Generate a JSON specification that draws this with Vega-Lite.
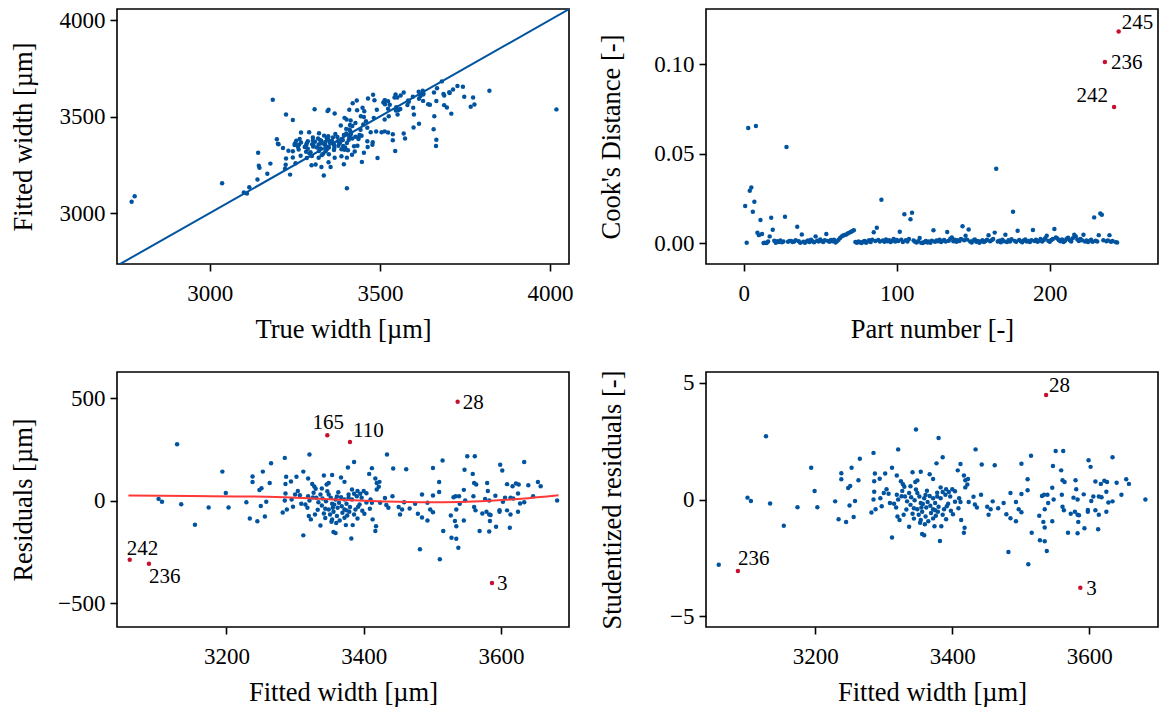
{
"$schema":"https://vega.github.io/schema/vega-lite/v6.json",
"background":"white",
"padding":{"left":9,"top":8,"right":5,"bottom":0},
"bounds":"flush",
"columns":2,
"spacing":{"row":108,"column":137},
"config":{
 "font":"Liberation Serif",
 "view":{"stroke":"black","strokeWidth":1.6},
 "axis":{"labelFont":"Liberation Serif","titleFont":"Liberation Serif","labelFontSize":23,"titleFontSize":26.5,"titleFontWeight":"normal","labelColor":"black","titleColor":"black","tickColor":"black","tickSize":7,"tickWidth":1.6,"domain":false,"grid":false,"labelFlush":false,"labelOverlap":false},
 "axisX":{"labelPadding":11,"titlePadding":11},
 "axisY":{"labelPadding":5,"titlePadding":22}
},
"datasets":{
"pts":[
{"f":3059,"r":-289,"s":-2.80,"t":2770,"id":"242"},
{"f":3087,"r":-308,"s":-3.07,"t":2779,"id":"236"},
{"f":3128,"r":275,"s":2.71,"t":3403},
{"f":3101,"r":8,"s":0.08,"t":3109},
{"f":3106,"r":-6,"s":-0.06,"t":3100},
{"f":3134,"r":-18,"s":-0.17,"t":3116},
{"f":3154,"r":-118,"s":-1.13,"t":3036},
{"f":3174,"r":-34,"s":-0.33,"t":3140},
{"f":3194,"r":141,"s":1.36,"t":3335},
{"f":3199,"r":37,"s":0.36,"t":3236},
{"f":3203,"r":-34,"s":-0.33,"t":3169},
{"f":3229,"r":-8,"s":-0.08,"t":3221},
{"f":3234,"r":-88,"s":-0.85,"t":3146},
{"f":3238,"r":117,"s":1.13,"t":3355},
{"f":3238,"r":90,"s":0.87,"t":3328},
{"f":3245,"r":-101,"s":-0.97,"t":3144},
{"f":3248,"r":51,"s":0.49,"t":3299},
{"f":3251,"r":60,"s":0.58,"t":3311},
{"f":3250,"r":-27,"s":-0.26,"t":3223},
{"f":3253,"r":141,"s":1.36,"t":3394},
{"f":3256,"r":-78,"s":-0.75,"t":3178},
{"f":3258,"r":-6,"s":-0.06,"t":3252},
{"f":3263,"r":86,"s":0.83,"t":3349},
{"f":3265,"r":182,"s":1.75,"t":3447},
{"f":3347,"r":318,"s":3.00,"t":3665,"id":"165"},
{"f":3380,"r":286,"s":2.64,"t":3666,"id":"110"},
{"f":3285,"r":208,"s":2.00,"t":3493},
{"f":3321,"r":224,"s":2.15,"t":3545},
{"f":3287,"r":116,"s":1.12,"t":3403},
{"f":3286,"r":81,"s":0.78,"t":3367},
{"f":3294,"r":93,"s":0.89,"t":3387},
{"f":3302,"r":116,"s":1.12,"t":3418},
{"f":3312,"r":141,"s":1.36,"t":3453},
{"f":3319,"r":107,"s":1.03,"t":3426},
{"f":3325,"r":81,"s":0.78,"t":3406},
{"f":3328,"r":68,"s":0.65,"t":3396},
{"f":3330,"r":57,"s":0.55,"t":3387},
{"f":3327,"r":38,"s":0.37,"t":3365},
{"f":3342,"r":122,"s":1.17,"t":3464},
{"f":3354,"r":124,"s":1.19,"t":3478},
{"f":3367,"r":112,"s":1.08,"t":3479},
{"f":3372,"r":91,"s":0.88,"t":3463},
{"f":3377,"r":161,"s":1.55,"t":3538},
{"f":3386,"r":188,"s":1.81,"t":3574},
{"f":3346,"r":78,"s":0.75,"t":3424},
{"f":3349,"r":85,"s":0.82,"t":3434},
{"f":3339,"r":59,"s":0.57,"t":3398},
{"f":3304,"r":46,"s":0.44,"t":3350},
{"f":3300,"r":29,"s":0.28,"t":3329},
{"f":3286,"r":34,"s":0.33,"t":3320},
{"f":3285,"r":0,"s":0.00,"t":3285},
{"f":3295,"r":5,"s":0.05,"t":3300},
{"f":3307,"r":26,"s":0.25,"t":3333},
{"f":3309,"r":-16,"s":-0.15,"t":3293},
{"f":3315,"r":-19,"s":-0.18,"t":3296},
{"f":3319,"r":21,"s":0.20,"t":3340},
{"f":3321,"r":0,"s":0.00,"t":3321},
{"f":3331,"r":13,"s":0.13,"t":3344},
{"f":3334,"r":-8,"s":-0.08,"t":3326},
{"f":3337,"r":29,"s":0.28,"t":3366},
{"f":3339,"r":-24,"s":-0.23,"t":3315},
{"f":3345,"r":-3,"s":-0.03,"t":3342},
{"f":3349,"r":29,"s":0.28,"t":3378},
{"f":3352,"r":13,"s":0.13,"t":3365},
{"f":3354,"r":-16,"s":-0.15,"t":3338},
{"f":3359,"r":5,"s":0.05,"t":3364},
{"f":3361,"r":20,"s":0.19,"t":3381},
{"f":3367,"r":16,"s":0.15,"t":3383},
{"f":3372,"r":5,"s":0.05,"t":3377},
{"f":3364,"r":-11,"s":-0.11,"t":3353},
{"f":3355,"r":-35,"s":-0.34,"t":3320},
{"f":3349,"r":-44,"s":-0.42,"t":3305},
{"f":3342,"r":-63,"s":-0.61,"t":3279},
{"f":3351,"r":-68,"s":-0.65,"t":3283},
{"f":3356,"r":-55,"s":-0.53,"t":3301},
{"f":3361,"r":-76,"s":-0.73,"t":3285},
{"f":3354,"r":-92,"s":-0.88,"t":3262},
{"f":3353,"r":-104,"s":-1.00,"t":3249},
{"f":3365,"r":-97,"s":-0.93,"t":3268},
{"f":3372,"r":-84,"s":-0.81,"t":3288},
{"f":3376,"r":-73,"s":-0.70,"t":3303},
{"f":3375,"r":-48,"s":-0.46,"t":3327},
{"f":3379,"r":-55,"s":-0.53,"t":3324},
{"f":3380,"r":-32,"s":-0.31,"t":3348},
{"f":3372,"r":-44,"s":-0.42,"t":3328},
{"f":3388,"r":-44,"s":-0.42,"t":3344},
{"f":3386,"r":-68,"s":-0.65,"t":3318},
{"f":3391,"r":-88,"s":-0.85,"t":3303},
{"f":3384,"r":-120,"s":-1.15,"t":3264},
{"f":3374,"r":-120,"s":-1.15,"t":3254},
{"f":3382,"r":-185,"s":-1.78,"t":3197},
{"f":3356,"r":-154,"s":-1.48,"t":3202},
{"f":3359,"r":-159,"s":-1.53,"t":3200},
{"f":3337,"r":-122,"s":-1.17,"t":3215},
{"f":3312,"r":-170,"s":-1.63,"t":3142},
{"f":3323,"r":-92,"s":-0.88,"t":3231},
{"f":3320,"r":-76,"s":-0.73,"t":3244},
{"f":3329,"r":-68,"s":-0.65,"t":3261},
{"f":3318,"r":-35,"s":-0.34,"t":3283},
{"f":3282,"r":-58,"s":-0.56,"t":3224},
{"f":3288,"r":-44,"s":-0.42,"t":3244},
{"f":3383,"r":54,"s":0.52,"t":3437},
{"f":3386,"r":33,"s":0.32,"t":3419},
{"f":3391,"r":46,"s":0.44,"t":3437},
{"f":3395,"r":33,"s":0.32,"t":3428},
{"f":3400,"r":46,"s":0.44,"t":3446},
{"f":3404,"r":36,"s":0.35,"t":3440},
{"f":3397,"r":13,"s":0.13,"t":3410},
{"f":3390,"r":21,"s":0.20,"t":3411},
{"f":3383,"r":5,"s":0.05,"t":3388},
{"f":3401,"r":-65,"s":-0.63,"t":3336},
{"f":3394,"r":-19,"s":-0.18,"t":3375},
{"f":3413,"r":-92,"s":-0.88,"t":3321},
{"f":3418,"r":-126,"s":-1.21,"t":3292},
{"f":3417,"r":-149,"s":-1.43,"t":3268},
{"f":3408,"r":130,"s":1.25,"t":3538},
{"f":3412,"r":158,"s":1.52,"t":3570},
{"f":3417,"r":107,"s":1.03,"t":3524},
{"f":3419,"r":86,"s":0.83,"t":3505},
{"f":3423,"r":91,"s":0.88,"t":3514},
{"f":3422,"r":67,"s":0.64,"t":3489},
{"f":3419,"r":54,"s":0.52,"t":3473},
{"f":3431,"r":12,"s":0.12,"t":3443},
{"f":3434,"r":224,"s":2.15,"t":3658},
{"f":3443,"r":156,"s":1.50,"t":3599},
{"f":3462,"r":153,"s":1.47,"t":3615},
{"f":3442,"r":21,"s":0.20,"t":3463},
{"f":3433,"r":-22,"s":-0.21,"t":3411},
{"f":3436,"r":-35,"s":-0.34,"t":3401},
{"f":3451,"r":-32,"s":-0.31,"t":3419},
{"f":3456,"r":-44,"s":-0.42,"t":3412},
{"f":3453,"r":-68,"s":-0.65,"t":3385},
{"f":3467,"r":-39,"s":-0.38,"t":3428},
{"f":3459,"r":-8,"s":-0.08,"t":3451},
{"f":3475,"r":-16,"s":-0.15,"t":3459},
{"f":3479,"r":-65,"s":-0.63,"t":3414},
{"f":3485,"r":-83,"s":-0.80,"t":3402},
{"f":3485,"r":29,"s":0.28,"t":3514},
{"f":3482,"r":-238,"s":-2.25,"t":3244},
{"f":3412,"r":-11,"s":-0.11,"t":3401},
{"f":3424,"r":-11,"s":-0.11,"t":3413},
{"f":3404,"r":-10,"s":-0.10,"t":3394},
{"f":3410,"r":5,"s":0.05,"t":3415},
{"f":3375,"r":-16,"s":-0.15,"t":3359},
{"f":3378,"r":13,"s":0.13,"t":3391},
{"f":3368,"r":-28,"s":-0.27,"t":3340},
{"f":3362,"r":-35,"s":-0.34,"t":3327},
{"f":3537,"r":482,"s":4.48,"t":4019,"id":"28"},
{"f":3587,"r":-402,"s":-3.79,"t":3185,"id":"3"},
{"f":3501,"r":159,"s":1.53,"t":3660},
{"f":3515,"r":195,"s":1.88,"t":3710},
{"f":3510,"r":90,"s":0.87,"t":3600},
{"f":3510,"r":42,"s":0.40,"t":3552},
{"f":3501,"r":25,"s":0.24,"t":3526},
{"f":3493,"r":-11,"s":-0.11,"t":3482},
{"f":3497,"r":-44,"s":-0.42,"t":3453},
{"f":3501,"r":-57,"s":-0.55,"t":3444},
{"f":3493,"r":-97,"s":-0.93,"t":3396},
{"f":3516,"r":-149,"s":-1.43,"t":3367},
{"f":3511,"r":-287,"s":-2.78,"t":3224},
{"f":3528,"r":-182,"s":-1.75,"t":3346},
{"f":3535,"r":-186,"s":-1.79,"t":3349},
{"f":3538,"r":-230,"s":-2.21,"t":3308},
{"f":3527,"r":-73,"s":-0.70,"t":3454},
{"f":3533,"r":-100,"s":-0.96,"t":3433},
{"f":3535,"r":-125,"s":-1.20,"t":3410},
{"f":3546,"r":-97,"s":-0.93,"t":3449},
{"f":3531,"r":16,"s":0.15,"t":3547},
{"f":3534,"r":21,"s":0.20,"t":3555},
{"f":3539,"r":21,"s":0.20,"t":3560},
{"f":3540,"r":-16,"s":-0.15,"t":3524},
{"f":3535,"r":-44,"s":-0.42,"t":3491},
{"f":3546,"r":52,"s":0.50,"t":3598},
{"f":3547,"r":150,"s":1.44,"t":3697},
{"f":3551,"r":216,"s":2.08,"t":3767},
{"f":3562,"r":216,"s":2.08,"t":3778},
{"f":3559,"r":130,"s":1.25,"t":3689},
{"f":3561,"r":86,"s":0.83,"t":3647},
{"f":3564,"r":78,"s":0.75,"t":3642},
{"f":3560,"r":21,"s":0.20,"t":3581},
{"f":3548,"r":0,"s":0.00,"t":3548},
{"f":3561,"r":-32,"s":-0.31,"t":3529},
{"f":3563,"r":-48,"s":-0.46,"t":3515},
{"f":3569,"r":-149,"s":-1.43,"t":3420},
{"f":3573,"r":-63,"s":-0.61,"t":3510},
{"f":3579,"r":-55,"s":-0.53,"t":3524},
{"f":3580,"r":86,"s":0.83,"t":3666},
{"f":3581,"r":46,"s":0.44,"t":3627},
{"f":3577,"r":8,"s":0.08,"t":3585},
{"f":3583,"r":0,"s":0.00,"t":3583},
{"f":3583,"r":-68,"s":-0.65,"t":3515},
{"f":3585,"r":-71,"s":-0.68,"t":3514},
{"f":3584,"r":-100,"s":-0.96,"t":3484},
{"f":3583,"r":-151,"s":-1.45,"t":3432},
{"f":3593,"r":-128,"s":-1.23,"t":3465},
{"f":3592,"r":23,"s":0.22,"t":3615},
{"f":3598,"r":-47,"s":-0.45,"t":3551},
{"f":3599,"r":175,"s":1.68,"t":3774},
{"f":3602,"r":146,"s":1.40,"t":3748},
{"f":3598,"r":-55,"s":-0.53,"t":3543},
{"f":3603,"r":-6,"s":-0.06,"t":3597},
{"f":3609,"r":80,"s":0.77,"t":3689},
{"f":3617,"r":70,"s":0.67,"t":3687},
{"f":3622,"r":83,"s":0.80,"t":3705},
{"f":3626,"r":78,"s":0.75,"t":3704},
{"f":3625,"r":34,"s":0.33,"t":3659},
{"f":3614,"r":13,"s":0.13,"t":3627},
{"f":3609,"r":-48,"s":-0.46,"t":3561},
{"f":3614,"r":-68,"s":-0.65,"t":3546},
{"f":3613,"r":-133,"s":-1.28,"t":3480},
{"f":3625,"r":-55,"s":-0.53,"t":3570},
{"f":3628,"r":-14,"s":-0.13,"t":3614},
{"f":3634,"r":-8,"s":-0.08,"t":3626},
{"f":3634,"r":188,"s":1.81,"t":3822},
{"f":3640,"r":75,"s":0.72,"t":3715},
{"f":3647,"r":21,"s":0.20,"t":3668},
{"f":3654,"r":90,"s":0.87,"t":3744},
{"f":3658,"r":70,"s":0.67,"t":3728},
{"f":3682,"r":0,"s":0.00,"t":3682},
{"f":3606,"r":13,"s":0.13,"t":3619},
{"f":3618,"r":10,"s":0.10,"t":3628},
{"f":3340,"r":10,"s":0.10,"t":3350},
{"f":3344,"r":-40,"s":-0.38,"t":3304},
{"f":3357,"r":-20,"s":-0.19,"t":3337},
{"f":3363,"r":40,"s":0.38,"t":3403},
{"f":3369,"r":-60,"s":-0.58,"t":3309},
{"f":3347,"r":45,"s":0.43,"t":3392},
{"f":3333,"r":-45,"s":-0.43,"t":3288},
{"f":3326,"r":15,"s":0.14,"t":3341},
{"f":3378,"r":30,"s":0.29,"t":3408},
{"f":3392,"r":-30,"s":-0.29,"t":3362},
{"f":3398,"r":-50,"s":-0.48,"t":3348},
{"f":3409,"r":-40,"s":-0.38,"t":3369},
{"f":3360,"r":-110,"s":-1.06,"t":3250},
{"f":3344,"r":-85,"s":-0.82,"t":3259},
{"f":3297,"r":-30,"s":-0.29,"t":3267}
],
"low":[
{"f":3057,"r":24},{"f":3150,"r":22},{"f":3260,"r":18},{"f":3320,"r":11},{"f":3375,"r":2},{"f":3430,"r":-5},{"f":3490,"r":-9},{"f":3540,"r":-7},{"f":3580,"r":-2},{"f":3630,"r":9},{"f":3684,"r":26}
],
"cook":[
{"p":1,"c":0.0208},{"p":2,"c":0.0003},{"p":3,"c":0.0643},{"p":4,"c":0.0293},{"p":5,"c":0.0312},{"p":6,"c":0.0176},{"p":7,"c":0.0232},{"p":8,"c":0.0654},{"p":9,"c":0.0059},{"p":10,"c":0.0046},
{"p":11,"c":0.0130},{"p":12,"c":0.0052},{"p":13,"c":0.0002},{"p":14,"c":0.0003},{"p":15,"c":0.0002},{"p":16,"c":0.0010},{"p":17,"c":0.0039},{"p":18,"c":0.0143},{"p":19,"c":0.0076},{"p":20,"c":0.0015},
{"p":21,"c":0.0004},{"p":22,"c":0.0012},{"p":23,"c":0.0008},{"p":24,"c":0.0016},{"p":25,"c":0.0006},{"p":26,"c":0.0011},{"p":27,"c":0.0148},{"p":28,"c":0.0537},{"p":29,"c":0.0009},{"p":30,"c":0.0014},
{"p":31,"c":0.0013},{"p":32,"c":0.0007},{"p":33,"c":0.0010},{"p":34,"c":0.0018},{"p":35,"c":0.0093},{"p":36,"c":0.0012},{"p":37,"c":0.0004},{"p":38,"c":0.0050},{"p":39,"c":0.0009},{"p":40,"c":0.0003},
{"p":41,"c":0.0011},{"p":42,"c":0.0016},{"p":43,"c":0.0008},{"p":44,"c":0.0020},{"p":45,"c":0.0012},{"p":46,"c":0.0006},{"p":47,"c":0.0039},{"p":48,"c":0.0015},{"p":49,"c":0.0010},{"p":50,"c":0.0022},
{"p":51,"c":0.0013},{"p":52,"c":0.0007},{"p":53,"c":0.0017},{"p":54,"c":0.0052},{"p":55,"c":0.0014},{"p":56,"c":0.0009},{"p":57,"c":0.0019},{"p":58,"c":0.0012},{"p":59,"c":0.0021},{"p":60,"c":0.0005},
{"p":61,"c":0.0012},{"p":62,"c":0.0020},{"p":63,"c":0.0030},{"p":64,"c":0.0039},{"p":65,"c":0.0044},{"p":66,"c":0.0047},{"p":67,"c":0.0050},{"p":68,"c":0.0055},{"p":69,"c":0.0060},{"p":70,"c":0.0064},
{"p":71,"c":0.0069},{"p":72,"c":0.0073},{"p":73,"c":0.0008},{"p":74,"c":0.0003},{"p":75,"c":0.0011},{"p":76,"c":0.0006},{"p":77,"c":0.0002},{"p":78,"c":0.0009},{"p":79,"c":0.0014},{"p":80,"c":0.0004},
{"p":81,"c":0.0010},{"p":82,"c":0.0017},{"p":83,"c":0.0008},{"p":84,"c":0.0021},{"p":85,"c":0.0062},{"p":86,"c":0.0013},{"p":87,"c":0.0087},{"p":88,"c":0.0019},{"p":89,"c":0.0011},{"p":90,"c":0.0243},
{"p":91,"c":0.0016},{"p":92,"c":0.0009},{"p":93,"c":0.0022},{"p":94,"c":0.0012},{"p":95,"c":0.0018},{"p":96,"c":0.0007},{"p":97,"c":0.0015},{"p":98,"c":0.0024},{"p":99,"c":0.0010},{"p":100,"c":0.0019},
{"p":101,"c":0.0013},{"p":102,"c":0.0065},{"p":103,"c":0.0021},{"p":104,"c":0.0008},{"p":105,"c":0.0163},{"p":106,"c":0.0017},{"p":107,"c":0.0011},{"p":108,"c":0.0024},{"p":109,"c":0.0135},{"p":110,"c":0.0171},
{"p":111,"c":0.0016},{"p":112,"c":0.0009},{"p":113,"c":0.0005},{"p":114,"c":0.0012},{"p":115,"c":0.0030},{"p":116,"c":0.0004},{"p":117,"c":0.0002},{"p":118,"c":0.0008},{"p":119,"c":0.0013},{"p":120,"c":0.0005},
{"p":121,"c":0.0010},{"p":122,"c":0.0003},{"p":123,"c":0.0015},{"p":124,"c":0.0073},{"p":125,"c":0.0009},{"p":126,"c":0.0016},{"p":127,"c":0.0012},{"p":128,"c":0.0021},{"p":129,"c":0.0007},{"p":130,"c":0.0014},
{"p":131,"c":0.0019},{"p":132,"c":0.0011},{"p":133,"c":0.0063},{"p":134,"c":0.0015},{"p":135,"c":0.0026},{"p":136,"c":0.0033},{"p":137,"c":0.0012},{"p":138,"c":0.0020},{"p":139,"c":0.0009},{"p":140,"c":0.0017},
{"p":141,"c":0.0013},{"p":142,"c":0.0024},{"p":143,"c":0.0096},{"p":144,"c":0.0018},{"p":145,"c":0.0043},{"p":146,"c":0.0021},{"p":147,"c":0.0078},{"p":148,"c":0.0010},{"p":149,"c":0.0005},{"p":150,"c":0.0016},
{"p":151,"c":0.0022},{"p":152,"c":0.0009},{"p":153,"c":0.0014},{"p":154,"c":0.0003},{"p":155,"c":0.0011},{"p":156,"c":0.0018},{"p":157,"c":0.0007},{"p":158,"c":0.0013},{"p":159,"c":0.0020},{"p":160,"c":0.0045},
{"p":161,"c":0.0012},{"p":162,"c":0.0017},{"p":163,"c":0.0025},{"p":164,"c":0.0060},{"p":165,"c":0.0416},{"p":166,"c":0.0010},{"p":167,"c":0.0015},{"p":168,"c":0.0006},{"p":169,"c":0.0021},{"p":170,"c":0.0012},
{"p":171,"c":0.0048},{"p":172,"c":0.0008},{"p":173,"c":0.0017},{"p":174,"c":0.0011},{"p":175,"c":0.0023},{"p":176,"c":0.0176},{"p":177,"c":0.0014},{"p":178,"c":0.0009},{"p":179,"c":0.0071},{"p":180,"c":0.0019},
{"p":181,"c":0.0012},{"p":182,"c":0.0006},{"p":183,"c":0.0016},{"p":184,"c":0.0022},{"p":185,"c":0.0010},{"p":186,"c":0.0014},{"p":187,"c":0.0008},{"p":188,"c":0.0018},{"p":189,"c":0.0074},{"p":190,"c":0.0013},
{"p":191,"c":0.0020},{"p":192,"c":0.0009},{"p":193,"c":0.0015},{"p":194,"c":0.0024},{"p":195,"c":0.0011},{"p":196,"c":0.0017},{"p":197,"c":0.0028},{"p":198,"c":0.0043},{"p":199,"c":0.0014},{"p":200,"c":0.0009},
{"p":201,"c":0.0019},{"p":202,"c":0.0025},{"p":203,"c":0.0080},{"p":204,"c":0.0033},{"p":205,"c":0.0027},{"p":206,"c":0.0018},{"p":207,"c":0.0012},{"p":208,"c":0.0022},{"p":209,"c":0.0008},{"p":210,"c":0.0015},
{"p":211,"c":0.0026},{"p":212,"c":0.0031},{"p":213,"c":0.0017},{"p":214,"c":0.0011},{"p":215,"c":0.0029},{"p":216,"c":0.0048},{"p":217,"c":0.0039},{"p":218,"c":0.0021},{"p":219,"c":0.0013},{"p":220,"c":0.0024},
{"p":221,"c":0.0018},{"p":222,"c":0.0048},{"p":223,"c":0.0010},{"p":224,"c":0.0016},{"p":225,"c":0.0007},{"p":226,"c":0.0014},{"p":227,"c":0.0020},{"p":228,"c":0.0009},{"p":229,"c":0.0145},{"p":230,"c":0.0015},
{"p":231,"c":0.0011},{"p":232,"c":0.0046},{"p":233,"c":0.0167},{"p":234,"c":0.0160},{"p":235,"c":0.0018},{"p":236,"c":0.1012},{"p":237,"c":0.0012},{"p":238,"c":0.0016},{"p":239,"c":0.0046},{"p":240,"c":0.0009},
{"p":241,"c":0.0013},{"p":242,"c":0.0760},{"p":243,"c":0.0007},{"p":244,"c":0.0005},{"p":245,"c":0.1182}
]
},
"concat":[
{
 "width":452,"height":255,
 "encoding":{
  "x":{"field":"t","type":"quantitative","title":"True width [µm]","scale":{"domain":[2727,4056],"nice":false,"zero":false},"axis":{"values":[3000,3500,4000],"format":"d"}},
  "y":{"field":"f","type":"quantitative","title":"Fitted width [µm]","scale":{"domain":[2736,4057],"nice":false,"zero":false},"axis":{"values":[3000,3500,4000],"format":"d"}}
 },
 "layer":[
  {"data":{"name":"pts"},"mark":{"type":"circle","size":20,"color":"#00539f","opacity":1}},
  {"data":{"values":[{"t":2700,"f":2700},{"t":4100,"f":4100}]},"mark":{"type":"line","color":"#00539f","strokeWidth":2,"clip":true},"encoding":{}}
 ]
},
{
 "width":452,"height":255,
 "data":{"name":"cook"},
 "encoding":{
  "x":{"field":"p","type":"quantitative","title":"Part number [-]","scale":{"domain":[-24.6,270.7],"nice":false,"zero":false},"axis":{"values":[0,100,200],"format":"d"}},
  "y":{"field":"c","type":"quantitative","title":"Cook's Distance [-]","scale":{"domain":[-0.0115,0.1307],"nice":false,"zero":false},"axis":{"values":[0,0.05,0.1],"format":".2f","titlePadding":28}}
 },
 "layer":[
  {"transform":[{"filter":"indexof([236,242,245], datum.p) < 0"}],"mark":{"type":"circle","size":20,"color":"#00539f","opacity":1}},
  {"transform":[{"filter":"indexof([236,242,245], datum.p) >= 0"}],"mark":{"type":"circle","size":20,"color":"#c8102e","opacity":1}},
  {"transform":[{"filter":"datum.p == 245"}],"mark":{"type":"text","align":"left","baseline":"alphabetic","dx":3,"dy":-2,"fontSize":21,"font":"Liberation Serif","color":"black"},"encoding":{"text":{"field":"p","type":"quantitative","format":"d"}}},
  {"transform":[{"filter":"datum.p == 236"}],"mark":{"type":"text","align":"left","baseline":"alphabetic","dx":6,"dy":7,"fontSize":21,"font":"Liberation Serif","color":"black"},"encoding":{"text":{"field":"p","type":"quantitative","format":"d"}}},
  {"transform":[{"filter":"datum.p == 242"}],"mark":{"type":"text","align":"right","baseline":"alphabetic","dx":-6,"dy":-5,"fontSize":21,"font":"Liberation Serif","color":"black"},"encoding":{"text":{"field":"p","type":"quantitative","format":"d"}}}
 ]
},
{
 "width":452,"height":255,
 "encoding":{
  "x":{"field":"f","type":"quantitative","title":"Fitted width [µm]","scale":{"domain":[3040.4,3699.3],"nice":false,"zero":false},"axis":{"values":[3200,3400,3600],"format":"d"}},
  "y":{"field":"r","type":"quantitative","title":"Residuals [µm]","scale":{"domain":[-617,627],"nice":false,"zero":false},"axis":{"values":[-500,0,500],"format":"d","titlePadding":20.5}}
 },
 "layer":[
  {"data":{"name":"pts"},"transform":[{"filter":"!datum.id"}],"mark":{"type":"circle","size":20,"color":"#00539f","opacity":1}},
  {"data":{"values":[{"r":0}]},"mark":{"type":"rule","color":"#222222","strokeWidth":3,"strokeDash":[3,4],"clip":true},"encoding":{"x":{"datum":3000},"x2":{"datum":3800}}},
  {"data":{"name":"low"},"mark":{"type":"line","color":"#ff3838","strokeWidth":2,"interpolate":"monotone"},"encoding":{}},
  {"data":{"name":"pts"},"transform":[{"filter":"datum.id"}],"mark":{"type":"circle","size":20,"color":"#c8102e","opacity":1}},
  {"data":{"name":"pts"},"transform":[{"filter":"datum.id == '242'"}],"mark":{"type":"text","align":"left","baseline":"alphabetic","dx":-3,"dy":-5,"fontSize":21,"font":"Liberation Serif","color":"black"},"encoding":{"text":{"field":"id"}}},
  {"data":{"name":"pts"},"transform":[{"filter":"datum.id == '236'"}],"mark":{"type":"text","align":"left","baseline":"alphabetic","dx":0,"dy":19,"fontSize":21,"font":"Liberation Serif","color":"black"},"encoding":{"text":{"field":"id"}}},
  {"data":{"name":"pts"},"transform":[{"filter":"datum.id == '165'"}],"mark":{"type":"text","align":"center","baseline":"alphabetic","dx":1,"dy":-6,"fontSize":21,"font":"Liberation Serif","color":"black"},"encoding":{"text":{"field":"id"}}},
  {"data":{"name":"pts"},"transform":[{"filter":"datum.id == '110'"}],"mark":{"type":"text","align":"left","baseline":"alphabetic","dx":3,"dy":-5,"fontSize":21,"font":"Liberation Serif","color":"black"},"encoding":{"text":{"field":"id"}}},
  {"data":{"name":"pts"},"transform":[{"filter":"datum.id == '28' || datum.id == '3'"}],"mark":{"type":"text","align":"left","baseline":"alphabetic","dx":5,"dy":7,"fontSize":21,"font":"Liberation Serif","color":"black"},"encoding":{"text":{"field":"id"}}}
 ]
},
{
 "width":452,"height":255,
 "encoding":{
  "x":{"field":"f","type":"quantitative","title":"Fitted width [µm]","scale":{"domain":[3040.4,3700.4],"nice":false,"zero":false},"axis":{"values":[3200,3400,3600],"format":"d"}},
  "y":{"field":"s","type":"quantitative","title":"Studentized residuals [-]","scale":{"domain":[-5.47,5.47],"nice":false,"zero":false},"axis":{"values":[-5,0,5],"format":"d","titlePadding":43.5}}
 },
 "layer":[
  {"data":{"name":"pts"},"transform":[{"filter":"indexof(['28','236','3'], datum.id) < 0"}],"mark":{"type":"circle","size":20,"color":"#00539f","opacity":1}},
  {"data":{"values":[{"s":3},{"s":-3}]},"mark":{"type":"rule","color":"#d61a3c","strokeWidth":1.8,"clip":true},"encoding":{"x":{"datum":3000},"x2":{"datum":3800}}},
  {"data":{"name":"pts"},"transform":[{"filter":"indexof(['28','236','3'], datum.id) >= 0"}],"mark":{"type":"circle","size":20,"color":"#c8102e","opacity":1}},
  {"data":{"name":"pts"},"transform":[{"filter":"datum.id == '28'"}],"mark":{"type":"text","align":"left","baseline":"alphabetic","dx":3,"dy":-3,"fontSize":21,"font":"Liberation Serif","color":"black"},"encoding":{"text":{"field":"id"}}},
  {"data":{"name":"pts"},"transform":[{"filter":"datum.id == '236'"}],"mark":{"type":"text","align":"left","baseline":"alphabetic","dx":0,"dy":-6,"fontSize":21,"font":"Liberation Serif","color":"black"},"encoding":{"text":{"field":"id"}}},
  {"data":{"name":"pts"},"transform":[{"filter":"datum.id == '3'"}],"mark":{"type":"text","align":"left","baseline":"alphabetic","dx":6,"dy":7,"fontSize":21,"font":"Liberation Serif","color":"black"},"encoding":{"text":{"field":"id"}}}
 ]
}
]
}
